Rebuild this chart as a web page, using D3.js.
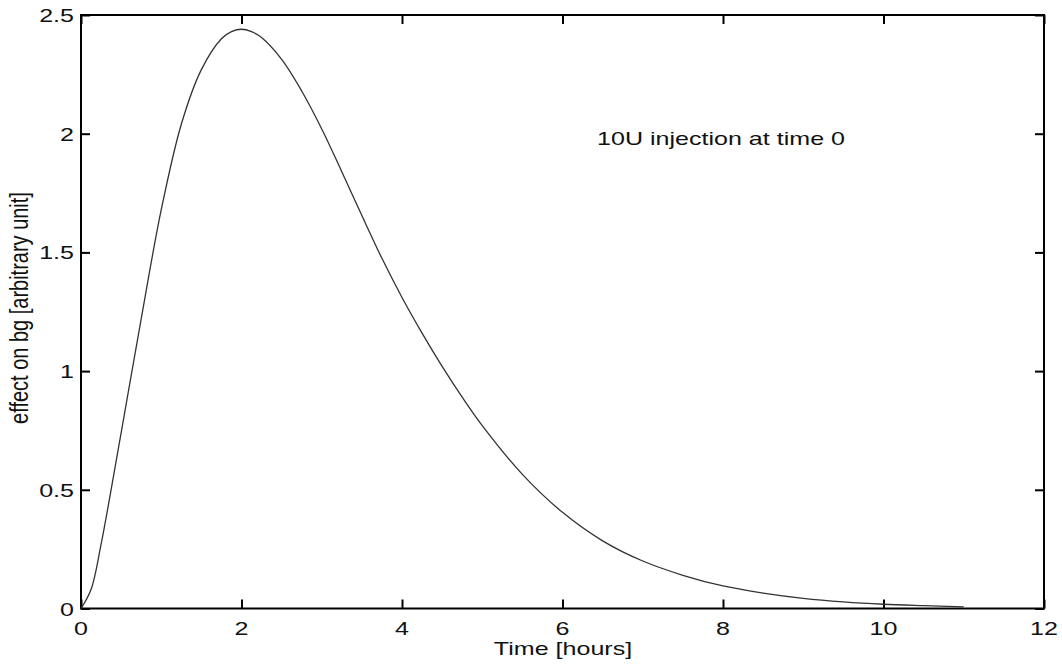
<!DOCTYPE html>
<html>
<head>
<meta charset="utf-8">
<script src="https://cdn.jsdelivr.net/npm/d3@7"></script>
<style>
  body { margin: 0; background: #fff; }
  text { font-family: "Liberation Sans", Arial, sans-serif; fill: #111; }
</style>
</head>
<body>
<div id="chart"></div>
<script>
// time after injection [hours]
var hours = [0, 0.125, 0.25, 0.5, 0.75, 1, 1.25, 1.5, 1.75, 1.875, 2, 2.125, 2.25, 2.5, 2.75, 3, 3.25, 3.5, 3.75,
             4, 4.25, 4.5, 4.75, 5, 5.5, 6, 6.5, 7, 7.5, 8, 8.5, 9, 9.5, 10, 10.5, 11];
// effect on bg [arbitrary unit]
var effect = [0, 0.08, 0.27, 0.74, 1.22, 1.68, 2.04, 2.27, 2.40, 2.43, 2.44, 2.43, 2.405, 2.313, 2.18, 2.02, 1.84, 1.655, 1.475,
              1.31, 1.16, 1.02, 0.89, 0.77, 0.565, 0.405, 0.285, 0.20, 0.14, 0.095, 0.065, 0.043, 0.028, 0.018, 0.012, 0.007];

var xTicks = [0, 2, 4, 6, 8, 10, 12];
var yTicks = [0, 0.5, 1, 1.5, 2, 2.5];

var note = "10U injection at time 0";
var xTitle = "Time [hours]";
var yTitle = "effect on bg [arbitrary unit]";

// plot box
var bb = { w: 1062, h: 664, left: 81, right: 1044, top: 15, bottom: 608.5 };
var stretch = 1.32; // text in the reference is wider than tall

var svg = d3.select("#chart").append("svg")
  .attr("width", bb.w)
  .attr("height", bb.h);

var x = d3.scaleLinear().domain([0, 12]).range([bb.left, bb.right]);
var y = d3.scaleLinear().domain([0, 2.5]).range([bb.bottom, bb.top]);

var tickLen = 9;

// inward ticks on all four sides, matlab style
svg.append("g").attr("transform", "translate(0," + bb.bottom + ")")
  .call(d3.axisTop(x).tickValues(xTicks).tickSize(tickLen).tickFormat(""));
svg.append("g").attr("transform", "translate(0," + bb.top + ")")
  .call(d3.axisBottom(x).tickValues(xTicks).tickSize(tickLen).tickFormat(""));
svg.append("g").attr("transform", "translate(" + bb.left + ",0)")
  .call(d3.axisRight(y).tickValues(yTicks).tickSize(tickLen).tickFormat(""));
svg.append("g").attr("transform", "translate(" + bb.right + ",0)")
  .call(d3.axisLeft(y).tickValues(yTicks).tickSize(tickLen).tickFormat(""));

svg.selectAll(".domain").remove();
svg.selectAll(".tick line").attr("stroke", "#000").attr("stroke-width", 2);

// box
svg.append("rect")
  .attr("x", bb.left).attr("y", bb.top)
  .attr("width", bb.right - bb.left).attr("height", bb.bottom - bb.top)
  .attr("fill", "none").attr("stroke", "#000").attr("stroke-width", 2);

// tick labels
svg.selectAll(".xlab").data(xTicks).enter().append("text")
  .attr("class", "xlab")
  .attr("transform", function(d) { return "translate(" + x(d) + ",635) scale(" + stretch + ",1)"; })
  .attr("text-anchor", "middle")
  .style("font-size", "19px")
  .text(function(d) { return d; });

svg.selectAll(".ylab").data(yTicks).enter().append("text")
  .attr("class", "ylab")
  .attr("transform", function(d) { return "translate(74," + (y(d) + 7) + ") scale(" + stretch + ",1)"; })
  .attr("text-anchor", "end")
  .style("font-size", "19px")
  .text(function(d) { return d; });

// axis titles
svg.append("text")
  .attr("transform", "translate(563,655) scale(" + stretch + ",1)")
  .attr("text-anchor", "middle")
  .style("font-size", "19px")
  .text(xTitle);

svg.append("text")
  .attr("transform", "translate(28,308) scale(" + stretch + ",1) rotate(-90)")
  .attr("text-anchor", "middle")
  .style("font-size", "20px")
  .text(yTitle);

// annotation
svg.append("text")
  .attr("transform", "translate(597,145) scale(" + stretch + ",1)")
  .style("font-size", "19px")
  .text(note);

// curve
var line = d3.line()
  .x(function(d, i) { return x(hours[i]); })
  .y(function(d) { return y(d); })
  .curve(d3.curveCatmullRom.alpha(0.5));

svg.append("path")
  .datum(effect)
  .attr("d", line)
  .attr("fill", "none")
  .attr("stroke", "#333")
  .attr("stroke-width", 1.3);
</script>
</body>
</html>
